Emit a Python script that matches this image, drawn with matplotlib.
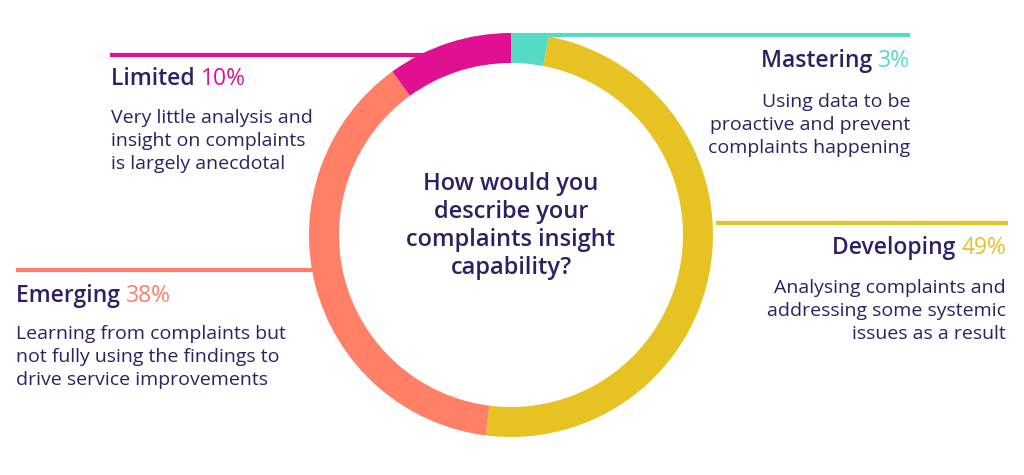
import matplotlib.pyplot as plt

categories = ["Mastering", "Developing", "Emerging", "Limited"]
shares = [3, 49, 38, 10]
descriptions = [
    "Using data to be\nproactive and prevent\ncomplaints happening",
    "Analysing complaints and\naddressing some systemic\nissues as a result",
    "Learning from complaints but\nnot fully using the findings to\ndrive service improvements",
    "Very little analysis and\ninsight on complaints\nis largely anecdotal",
]
colors = ["#55dbc5", "#e6c323", "#ff7f67", "#e11093"]
navy = "#2d2166"
question = "How would you\ndescribe your\ncomplaints insight\ncapability?"

W, H = 1024, 475
plt.rcParams['font.family'] = ['Open Sans', 'DejaVu Sans']

fig = plt.figure(figsize=(W / 100, H / 100), dpi=100)
ax = fig.add_axes([0, 0, 1, 1])


def Y(py):
    # pixel row (from top) to data y
    return H - py


cx, cy, r_out, ring = 511, 235, 202, 30
ax.pie(shares, colors=colors, startangle=90, counterclock=False,
       center=(cx, Y(cy)), radius=r_out,
       wedgeprops=dict(width=ring, linewidth=0))

# leader lines: (x0, x1, row)
leaders = [(511, 910, 35), (716, 1008, 223), (16, 314, 270), (110, 424, 55)]
for (x0, x1, row), c in zip(leaders, colors):
    ax.plot([x0, x1], [Y(row), Y(row)], color=c, lw=3, solid_capstyle='butt', zorder=0)

# label blocks: (x, title row, desc top row, align)
blocks = [(910, 61, 93, 'right'), (1006, 248, 279, 'right'),
          (16, 296, 325, 'left'), (111, 79, 109, 'left')]
for (x, trow, drow, ha), name, pct, desc, c in zip(blocks, categories, shares, descriptions, colors):
    t = ax.text(x, Y(trow), f"{name} ", color=navy, fontsize=16.5, fontweight='semibold',
                ha='left', va='center')
    # place title then percentage in its colour
    fig.canvas.draw()
    bb = t.get_window_extent()
    pct_t = ax.text(0, Y(trow), f"{pct}%", color=c, fontsize=16.5, ha='left', va='center')
    pb = pct_t.get_window_extent()
    total = bb.width + pb.width
    start = x - total if ha == 'right' else x
    t.set_x(start)
    pct_t.set_x(start + bb.width)
    ax.text(x, Y(drow), desc, color=navy, fontsize=14, ha=ha, va='top',
            multialignment=ha, linespacing=1.37)

ax.text(cx, Y(226), question, color=navy, fontsize=17, fontweight='semibold',
        ha='center', va='center', linespacing=1.22)

ax.set_xlim(0, W)
ax.set_ylim(0, H)
ax.set_aspect('equal')
ax.axis('off')

fig.savefig("out.png", dpi=100, facecolor='white')
